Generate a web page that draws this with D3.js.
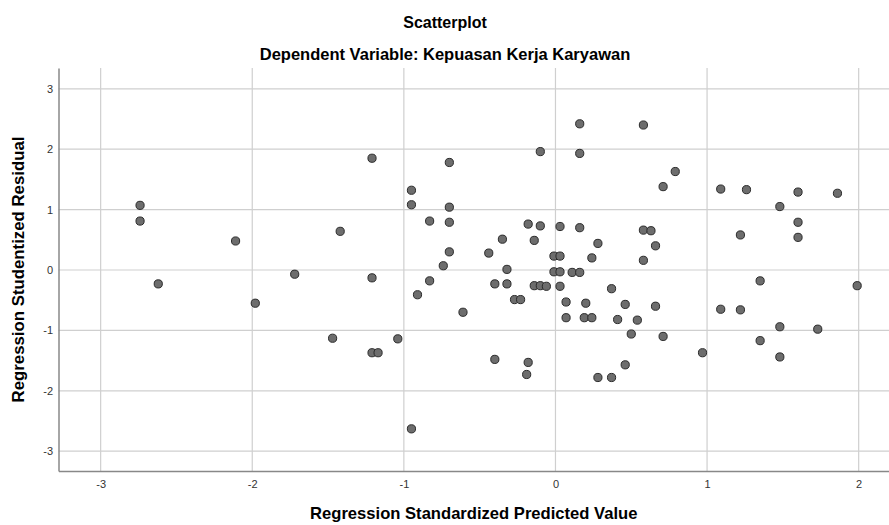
<!DOCTYPE html>
<html><head><meta charset="utf-8">
<script src="https://cdn.jsdelivr.net/npm/d3@7"></script>
<style>body{margin:0;background:#fff;} svg{display:block;font-family:"Liberation Sans",Arial,sans-serif;}</style>
</head><body><svg id="c" width="889" height="525"></svg>
<script>
const predicted = [-2.74,-2.74,-2.62,-2.11,-1.98,-1.72,-1.47,-1.42,-1.21,-1.21,-1.21,-1.17,-1.04,-0.95,-0.95,-0.95,-0.91,-0.83,-0.83,-0.74,
-0.70,-0.70,-0.70,-0.70,-0.61,-0.44,-0.40,-0.40,-0.35,-0.32,-0.32,-0.27,-0.23,-0.18,-0.18,-0.19,-0.14,-0.14,-0.10,-0.06,
-0.10,-0.10,-0.01,0.03,-0.01,0.03,0.03,0.03,0.07,0.07,0.11,0.16,0.16,0.16,0.16,0.19,0.24,0.20,0.24,0.28,
0.28,0.37,0.37,0.41,0.46,0.46,0.50,0.54,0.58,0.58,0.58,0.63,0.66,0.66,0.71,0.71,0.79,0.97,1.09,1.09,
1.22,1.22,1.26,1.35,1.35,1.48,1.48,1.48,1.60,1.60,1.60,1.73,1.86,1.99];
const residual = [1.07,0.81,-0.23,0.48,-0.55,-0.07,-1.13,0.64,1.85,-0.13,-1.37,-1.37,-1.14,1.32,1.08,-2.63,-0.41,0.81,-0.18,0.07,
1.78,1.04,0.79,0.30,-0.70,0.28,-0.23,-1.48,0.51,0.01,-0.23,-0.49,-0.49,0.76,-1.53,-1.73,0.49,-0.26,-0.26,-0.27,
1.96,0.73,0.23,0.23,-0.03,-0.03,0.72,-0.27,-0.53,-0.79,-0.04,-0.04,2.42,1.93,0.70,-0.79,-0.79,-0.55,0.20,0.44,
-1.78,-1.78,-0.31,-0.82,-0.57,-1.57,-1.06,-0.83,2.40,0.66,0.16,0.65,0.40,-0.60,1.38,-1.10,1.63,-1.37,1.34,-0.65,
0.58,-0.66,1.33,-0.18,-1.17,1.05,-0.94,-1.44,1.29,0.79,0.54,-0.98,1.27,-0.26];
const xTicks = [-3,-2,-1,0,1,2];
const yTicks = [-3,-2,-1,0,1,2,3];
const title = "Scatterplot";
const subtitle = "Dependent Variable: Kepuasan Kerja Karyawan";
const xTitle = "Regression Standardized Predicted Value";
const yTitle = "Regression Studentized Residual";

const svg = d3.select("#c");
const L = 58.5, R = 889, T = 68, B = 471;
const x = d3.scaleLinear().domain([-3.278, 2.2]).range([L, R]);
const y = d3.scaleLinear().domain([-3.328, 3.344]).range([B, T]);
const fmt = d => String(d);

const grid = svg.append("g");
grid.selectAll("line.v").data(xTicks).join("line")
  .attr("x1", d => x(d)).attr("x2", d => x(d)).attr("y1", T).attr("y2", B)
  .attr("stroke", "#cfcfcf").attr("stroke-width", 1.2);
grid.selectAll("line.h").data(yTicks).join("line")
  .attr("y1", d => y(d)).attr("y2", d => y(d)).attr("x1", L).attr("x2", R)
  .attr("stroke", "#cfcfcf").attr("stroke-width", 1.2);

const xAxis = svg.append("g").attr("transform", `translate(0,${B})`)
  .call(d3.axisBottom(x).tickValues(xTicks).tickSize(0).tickPadding(9).tickFormat(fmt));
xAxis.select(".domain").attr("stroke", "#888").attr("stroke-width", 1.5);
xAxis.selectAll("text").attr("font-size", 11).attr("fill", "#333").attr("font-family", "Liberation Sans, Arial, sans-serif");

const yAxis = svg.append("g").attr("transform", `translate(${L},0)`)
  .call(d3.axisLeft(y).tickValues(yTicks).tickSize(0).tickPadding(5.5).tickFormat(fmt));
yAxis.select(".domain").attr("stroke", "#888").attr("stroke-width", 1.5);
yAxis.selectAll("text").attr("font-size", 11).attr("fill", "#333").attr("font-family", "Liberation Sans, Arial, sans-serif");

svg.append("g").selectAll("circle").data(predicted.map((p, i) => [p, residual[i]])).join("circle")
  .attr("cx", d => x(d[0])).attr("cy", d => y(d[1])).attr("r", 4.1)
  .attr("fill", "#6d6d6d").attr("stroke", "#2a2a2a").attr("stroke-width", 1);

svg.append("text").attr("x", 445).attr("y", 28).attr("text-anchor", "middle")
  .attr("font-size", 16).attr("font-weight", "bold").attr("fill", "#000").text(title);
svg.append("text").attr("x", 445).attr("y", 60).attr("text-anchor", "middle")
  .attr("font-size", 16.5).attr("font-weight", "bold").attr("fill", "#000").text(subtitle);
svg.append("text").attr("x", (L + R) / 2).attr("y", 519).attr("text-anchor", "middle")
  .attr("font-size", 16.6).attr("font-weight", "bold").attr("fill", "#000").text(xTitle);
svg.append("text").attr("transform", `translate(24,${(T + B) / 2}) rotate(-90)`).attr("text-anchor", "middle")
  .attr("font-size", 16.8).attr("font-weight", "bold").attr("fill", "#000").text(yTitle);
</script></body></html>
